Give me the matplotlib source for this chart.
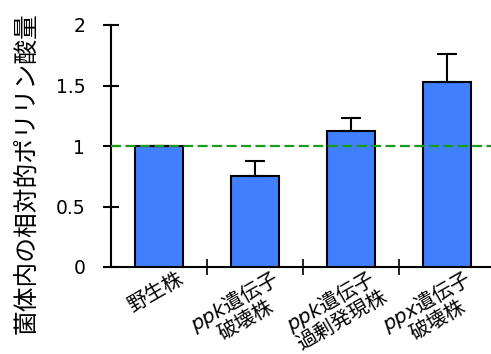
import math
import matplotlib
matplotlib.use("Agg")
import matplotlib.pyplot as plt
from matplotlib import transforms

plt.rcParams['font.family'] = ['DejaVu Sans', 'Noto Sans CJK JP']
plt.rcParams['mathtext.fontset'] = 'custom'
plt.rcParams['mathtext.it'] = 'DejaVu Sans:italic'

# 株ごとの相対ポリリン酸量と誤差
strains = [['野生株'],
           ['$\\it{ppk}$遺伝子', '破壊株'],
           ['$\\it{ppk}$遺伝子', '過剰発現株'],
           ['$\\it{ppx}$遺伝子', '破壊株']]
values = [1.0, 0.755, 1.124, 1.529]
errors = [0.0, 0.119, 0.110, 0.234]
y_ticks = [0, 0.5, 1, 1.5, 2]
y_tick_labels = ['0', '0.5', '1', '1.5', '2']

fig = plt.figure(figsize=(4.91, 3.54), dpi=100)
ax = fig.add_axes([111 / 491, 87 / 354, 384 / 491, 242 / 354])

x = [i + 0.5 for i in range(len(values))]
ax.bar(x, values, width=0.5, color='#4080ff', edgecolor='black', linewidth=1.5, zorder=3)
ax.errorbar(x, values, yerr=[[0] * len(errors), errors], fmt='none', ecolor='black',
            elinewidth=1.5, capsize=7, capthick=1.5, zorder=4)
ax.axhline(1.0, color='#1a9a1a', linestyle=(0, (4.5, 2)), linewidth=1.6, zorder=5)

ax.set_xlim(0, 4)
ax.set_ylim(0, 2)
for side in ['top', 'right']:
    ax.spines[side].set_visible(False)
ax.spines['left'].set_linewidth(1.5)
ax.spines['bottom'].set_linewidth(1.5)

ax.set_yticks(y_ticks)
ax.set_yticklabels(y_tick_labels, fontsize=13.5)
ax.tick_params(axis='y', direction='inout', length=11, width=1.5, pad=13)
ax.set_xticks([1, 2, 3])
ax.set_xticklabels([])
ax.tick_params(axis='x', direction='inout', length=11, width=1.2)

# 斜めの株名ラベル：1行目の右端を基準に、2行目は1行目の中央にそろえる
label_font = dict(fontsize=14.5, family=['Noto Sans CJK JP', 'DejaVu Sans'])
renderer = fig.canvas.get_renderer()


def text_width(s):
    t = fig.text(0, 0, s, **label_font)
    w = t.get_window_extent(renderer).width
    t.remove()
    return w


ang = math.radians(30)
along = (math.cos(ang), math.sin(ang))
down = (math.sin(ang), -math.cos(ang))
line_gap = 21

for xi, lines in zip(x, strains):
    dx, dy = 26, -15
    w1 = text_width(lines[0])
    for k, line in enumerate(lines):
        shift = (w1 - text_width(line)) / 2
        ox = dx + k * line_gap * down[0] - shift * along[0]
        oy = dy + k * line_gap * down[1] - shift * along[1]
        tr = transforms.offset_copy(ax.transData, fig=fig, x=ox, y=oy, units='dots')
        ax.text(xi, 0, line, rotation=30, rotation_mode='anchor', ha='right', va='baseline',
                transform=tr, clip_on=False, **label_font)

fig.text(26 / 491, 0.51, '菌体内の相対的ポリリン酸量', rotation=90, ha='center', va='center',
         fontsize=17.8, family=['Noto Sans CJK JP', 'DejaVu Sans'])

fig.savefig('out.png', dpi=100)
